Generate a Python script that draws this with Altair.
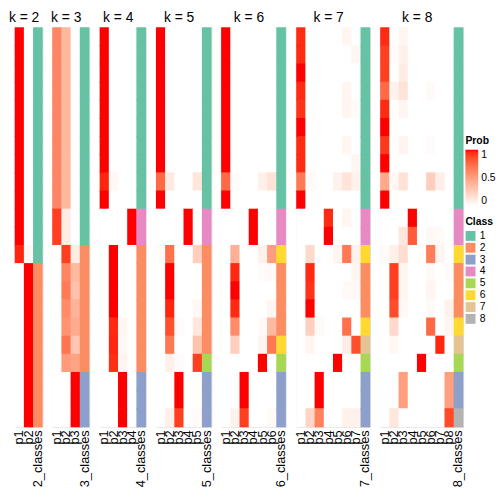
import altair as alt
import pandas as pd

FONT = "Liberation Sans"
N_ROWS = 22
ROWS = list(range(N_ROWS))

class_names = ["1", "2", "3", "4", "5", "6", "7", "8"]
class_colors = ["#66C2A5", "#FC8D62", "#8DA0CB", "#E78AC3",
                "#A6D854", "#FFD92F", "#E5C494", "#B3B3B3"]

# ---- k = 2 ----
classes_k2 = [1] * 13 + [2] * 9
prob_k2 = [[1, 0]] * 12 + [[0.96, 0.04]] + [[0, 1]] * 9

# ---- k = 3 ----
classes_k3 = [1] * 12 + [2] * 7 + [3] * 3
prob_k3 = ([[0.62, 0.38, 0]] * 10 + [[0.9, 0.1, 0]] * 2 +
           [[0, 0.9, 0.1], [0, 0.63, 0.37], [0, 0.67, 0.33], [0, 0.6, 0.4],
            [0, 0.56, 0.44], [0, 0.7, 0.3], [0, 0.52, 0.48]] +
           [[0, 0, 1]] * 3)

# ---- k = 4 ----
classes_k4 = [1] * 10 + [4] * 2 + [2] * 7 + [3] * 3
prob_k4 = ([[1, 0, 0, 0]] * 8 + [[0.96, 0.04, 0, 0]] + [[1, 0, 0, 0]] +
           [[0, 0, 0, 1]] * 2 + [[0, 1, 0, 0]] * 4 +
           [[0, 0.95, 0.05, 0], [0, 0.96, 0.04, 0], [0, 0.94, 0.06, 0]] +
           [[0, 0, 1, 0]] * 3)

# ---- k = 5 ----
classes_k5 = [1] * 10 + [4] * 2 + [2] * 6 + [5] + [3] * 3
prob_k5 = ([[1, 0, 0, 0, 0]] * 8 + [[0.75, 0.11, 0, 0, 0.14]] + [[1, 0, 0, 0, 0]] +
           [[0, 0, 0, 1, 0]] * 2 +
           [[0.02, 0.72, 0, 0, 0.26], [0, 1, 0, 0, 0], [0, 1, 0, 0, 0],
            [0, 0.96, 0, 0, 0.04], [0, 0.85, 0.02, 0, 0.13], [0, 0.68, 0, 0, 0.32],
            [0, 0.08, 0.02, 0, 0.9]] +
           [[0, 0, 1, 0, 0]] * 2 + [[0, 0.08, 0.9, 0, 0.02]])

# ---- k = 6 ----
classes_k6 = [1] * 10 + [4] * 2 + [6] + [2] * 4 + [6] + [5] + [3] * 3
prob_k6 = ([[1, 0, 0, 0, 0, 0]] * 8 + [[0.75, 0.02, 0, 0, 0.08, 0.15]] +
           [[1, 0, 0, 0, 0, 0]] + [[0, 0, 0, 1, 0, 0]] * 2 +
           [[0, 0.42, 0, 0, 0.07, 0.51], [0, 0.95, 0, 0, 0.02, 0.03],
            [0, 1, 0, 0, 0, 0], [0, 0.95, 0, 0, 0, 0.05],
            [0, 0.6, 0, 0, 0.03, 0.37], [0, 0.25, 0, 0, 0.06, 0.69],
            [0, 0, 0, 0, 1, 0]] +
           [[0, 0, 1, 0, 0, 0]] * 2 + [[0, 0.07, 0.9, 0, 0, 0.03]])

# ---- k = 7 ----
classes_k7 = [1] * 10 + [4] * 2 + [6] + [2] * 3 + [6] + [7] + [5] + [3] * 3
prob_k7 = [
    [0.95, 0, 0, 0, 0, 0.05, 0],
    [0.95, 0, 0, 0, 0, 0, 0.05],
    [1, 0, 0, 0, 0, 0, 0],
    [0.95, 0, 0, 0, 0, 0.05, 0],
    [0.93, 0, 0, 0, 0, 0.05, 0.02],
    [1, 0, 0, 0, 0, 0, 0],
    [0.95, 0, 0, 0, 0, 0.05, 0],
    [0.95, 0, 0, 0, 0, 0, 0.05],
    [0.68, 0.03, 0, 0, 0.07, 0.15, 0.07],
    [1, 0, 0, 0, 0, 0, 0],
    [0, 0, 0, 0.95, 0, 0.05, 0],
    [0, 0, 0, 1, 0, 0, 0],
    [0, 0.2, 0, 0, 0.05, 0.68, 0.07],
    [0, 0.95, 0, 0, 0, 0, 0.05],
    [0, 0.93, 0, 0, 0, 0.03, 0.04],
    [0, 1, 0, 0, 0, 0, 0],
    [0, 0.25, 0.03, 0, 0, 0.72, 0],
    [0, 0.05, 0, 0, 0, 0.1, 0.85],
    [0, 0, 0, 0, 1, 0, 0],
    [0, 0, 1, 0, 0, 0, 0],
    [0, 0, 1, 0, 0, 0, 0],
    [0, 0.22, 0.64, 0, 0, 0.07, 0.07],
]

# ---- k = 8 ----
classes_k8 = [1] * 10 + [4] * 2 + [6] + [2] * 3 + [6] + [7] + [5] + [3] * 2 + [8]
prob_k8 = [
    [0.95, 0, 0.05, 0, 0, 0, 0, 0],
    [0.9, 0.02, 0.08, 0, 0, 0, 0, 0],
    [0.9, 0, 0.1, 0, 0, 0, 0, 0],
    [0.75, 0.07, 0.15, 0, 0, 0.03, 0, 0],
    [0.95, 0, 0.05, 0, 0, 0, 0, 0],
    [1, 0, 0, 0, 0, 0, 0, 0],
    [0.92, 0, 0.06, 0, 0, 0.02, 0, 0],
    [1, 0, 0, 0, 0, 0, 0, 0],
    [0.45, 0.04, 0.16, 0, 0, 0.26, 0.09, 0],
    [1, 0, 0, 0, 0, 0, 0, 0],
    [0, 0, 0, 1, 0, 0, 0, 0],
    [0, 0, 0.13, 0.8, 0, 0.04, 0.03, 0],
    [0.02, 0.08, 0.18, 0, 0, 0.66, 0.06, 0],
    [0, 0.9, 0.05, 0, 0, 0.03, 0, 0.02],
    [0, 0.9, 0.05, 0, 0, 0.05, 0, 0],
    [0, 0.86, 0.04, 0, 0, 0.03, 0, 0.07],
    [0, 0.2, 0, 0, 0, 0.75, 0, 0.05],
    [0, 0.04, 0, 0, 0, 0, 0.96, 0],
    [0, 0, 0, 0, 1, 0, 0, 0],
    [0, 0, 0.5, 0, 0, 0, 0, 0.5],
    [0, 0, 0.5, 0, 0, 0, 0, 0.5],
    [0, 0.13, 0, 0, 0, 0, 0, 0.87],
]

panels_data = [
    (2, prob_k2, classes_k2), (3, prob_k3, classes_k3), (4, prob_k4, classes_k4),
    (5, prob_k5, classes_k5), (6, prob_k6, classes_k6), (7, prob_k7, classes_k7),
    (8, prob_k8, classes_k8),
]

CELL_W = 9.3
PANEL_H = 404

prob_legend = alt.Legend(
    title="Prob", values=[0, 0.5, 1], format="~g", orient="none",
    legendX=456, legendY=110, direction="vertical",
    gradientLength=57, gradientThickness=13, gradientStrokeWidth=0,
    labelOverlap=False, labelFontSize=10.5,
    titleFontSize=10.5, titleFontWeight="bold", titlePadding=3, labelOffset=3,
)
class_legend = alt.Legend(
    title="Class", orient="none", legendX=456, legendY=192,
    symbolType="square", symbolSize=100, symbolStrokeWidth=0,
    labelFontSize=10.5, titleFontSize=10.5, titleFontWeight="bold",
    titlePadding=3, labelOffset=4,
)

RECT = dict(width={"band": 1.05}, height={"band": 1.05}, strokeWidth=0)


def panel(k, probs, classes):
    cols = [f"p{i}" for i in range(1, k + 1)] + [f"{k}_classes"]
    prob_df = pd.DataFrame(
        [{"row": r, "col": f"p{j + 1}", "prob": v}
         for r, vals in enumerate(probs) for j, v in enumerate(vals)]
    )
    cls_df = pd.DataFrame(
        [{"row": r, "col": f"{k}_classes", "cls": str(c)} for r, c in enumerate(classes)]
    )
    x = alt.X(
        "col:N", sort=cols,
        scale=alt.Scale(domain=cols, paddingInner=0, paddingOuter=0),
        axis=alt.Axis(title=None, labelAngle=-90, ticks=False, domain=False,
                      labelPadding=3, labelFontSize=13, labelColor="black",
                      labelFont=FONT, grid=False),
    )
    y = alt.Y("row:O", scale=alt.Scale(domain=ROWS, paddingInner=0, paddingOuter=0),
              axis=None)
    heat = alt.Chart(prob_df).mark_rect(**RECT).encode(
        x=x, y=y,
        color=alt.Color("prob:Q",
                        scale=alt.Scale(domain=[0, 1], range=["white", "red"],
                                        interpolate="lab"),
                        legend=prob_legend),
    )
    cls = alt.Chart(cls_df).mark_rect(**RECT).encode(
        x=x, y=y,
        fill=alt.Fill("cls:N",
                      scale=alt.Scale(domain=class_names, range=class_colors),
                      legend=class_legend),
    )
    return alt.layer(heat, cls).properties(
        width=CELL_W * (k + 1), height=PANEL_H,
        title=alt.TitleParams(f"k = {k}", fontSize=14, font=FONT,
                              fontWeight="normal", color="black",
                              anchor="middle", dx=-CELL_W / 2, offset=2),
    )


chart = alt.hconcat(
    *[panel(k, p, c) for k, p, c in panels_data], spacing=10, bounds="flush"
).properties(
    padding={"left": 0, "top": 0, "right": 0, "bottom": 0}
).configure_view(
    stroke="#808080", strokeWidth=1
).configure(
    font=FONT
).configure_legend(
    labelFont=FONT, titleFont=FONT, labelColor="black", titleColor="black",
    rowPadding=1
)

chart.save("out.html", embed_options={"renderer": "svg", "actions": False})
